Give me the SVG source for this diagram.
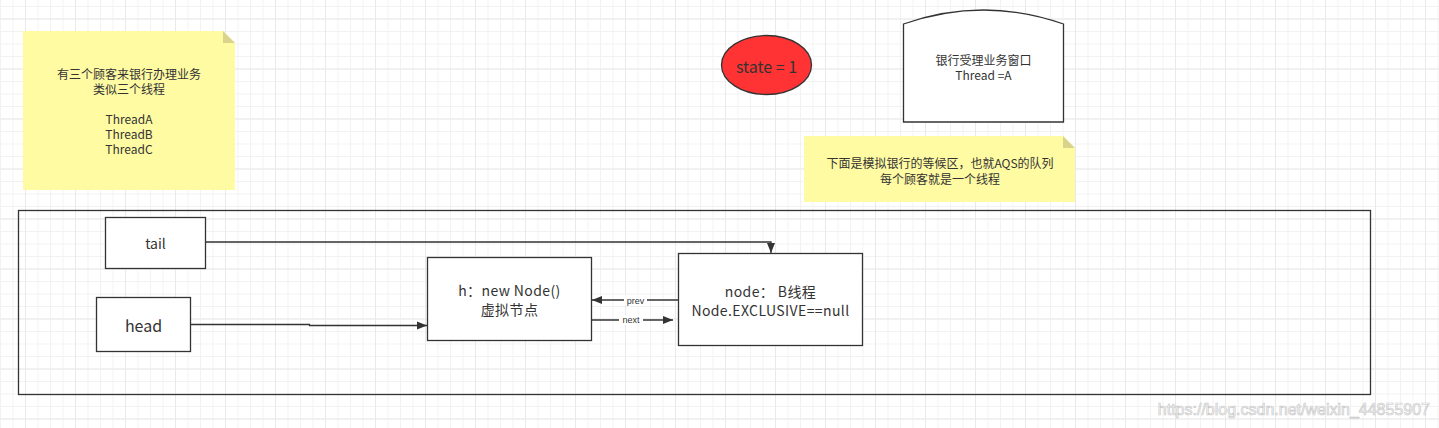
<svg xmlns="http://www.w3.org/2000/svg" width="1439" height="428" viewBox="0 0 1439 428">
<defs>
<pattern id="minor" x="0" y="6" width="12.5" height="12.5" patternUnits="userSpaceOnUse">
<path d="M0 0.5H12.5M0.5 0V12.5" stroke="#f2f2f2" stroke-width="1" fill="none"/>
</pattern>
<pattern id="major" x="25" y="18.5" width="50" height="50" patternUnits="userSpaceOnUse">
<path d="M0 0.5H50M0.5 0V50" stroke="#e9e9e9" stroke-width="1" fill="none"/>
</pattern>
<marker id="arr" viewBox="0 0 10 10" refX="10" refY="5" markerWidth="10" markerHeight="10" markerUnits="userSpaceOnUse" orient="auto">
<path d="M0,1 L10,5 L0,9 Z" fill="#333"/>
</marker>
<style>
.box{fill:#fff;stroke:#333;stroke-width:1.3}
.note{fill:#fffba3}
.fold{fill:#d9d38b}
.t{font-family:"Microsoft YaHei","Noto Sans CJK SC","Liberation Sans",sans-serif;fill:#333;text-anchor:middle;dominant-baseline:central}
.s{font-size:12px}
.m{font-size:14px;letter-spacing:0.4px}
.l{font-size:16px}
.line{fill:none;stroke:#333;stroke-width:1.3}
.lbl{font-family:"Liberation Sans","Noto Sans CJK SC",sans-serif;font-size:9px;fill:#333;text-anchor:middle;dominant-baseline:central}
</style>
</defs>
<rect width="1439" height="428" fill="#fff"/>
<rect width="1439" height="428" fill="url(#minor)"/>
<rect width="1439" height="428" fill="url(#major)"/>

<g id="note1">
<path class="note" d="M23,31 H223 L235,43 V190 H23 Z"/>
<path class="fold" d="M223,31 L235,43 H223 Z"/>
<text class="t s" x="129" y="73">有三个顾客来银行办理业务</text>
<text class="t s" x="129" y="88">类似三个线程</text>
<text class="t s" x="129" y="118">ThreadA</text>
<text class="t s" x="129" y="133">ThreadB</text>
<text class="t s" x="129" y="148">ThreadC</text>
</g>

<g id="state">
<ellipse cx="766.5" cy="65" rx="45" ry="29.5" fill="#ff3333" stroke="#333" stroke-width="1.3"/>
<text class="t l" x="766.5" y="66">state = 1</text>
</g>

<g id="window">
<path class="box" d="M903.5,24 Q983.5,-4 1063.5,24 V122 H903.5 Z"/>
<text class="t s" x="983.5" y="59">银行受理业务窗口</text>
<text class="t s" x="983.5" y="74">Thread =A</text>
</g>

<g id="note2">
<path class="note" d="M804,136 H1063 L1075,148 V202 H804 Z"/>
<path class="fold" d="M1063,136 L1075,148 H1063 Z"/>
<text class="t s" x="940" y="162">下面是模拟银行的等候区，也就AQS的队列</text>
<text class="t s" x="940" y="178">每个顾客就是一个线程</text>
</g>

<g id="container">
<rect x="18.5" y="210.5" width="1352" height="184" fill="none" stroke="#333" stroke-width="1.3"/>
</g>

<g id="tail">
<rect class="box" x="105.5" y="217.5" width="100" height="51"/>
<text class="t" x="155.5" y="243" font-size="14">tail</text>
</g>

<g id="head">
<rect class="box" x="96.5" y="297.5" width="94" height="54"/>
<text class="t l" x="143.5" y="325">head</text>
</g>

<g id="hnode">
<rect class="box" x="427.5" y="257.5" width="164" height="83"/>
<text class="t m" x="509.5" y="290">h：new Node()</text>
<text class="t m" x="509.5" y="309">虚拟节点</text>
</g>

<g id="bnode">
<rect class="box" x="678.5" y="253.5" width="184" height="92"/>
<text class="t m" x="770.5" y="290.5">node： B线程</text>
<text class="t m" x="770.5" y="309.5">Node.EXCLUSIVE==null</text>
</g>

<g id="connectors">
<path class="line" d="M205.5,242 H771 V253" marker-end="url(#arr)"/>
<path class="line" d="M190.5,324.5 H309.5 V325.5 H427" marker-end="url(#arr)"/>
<path class="line" d="M678,300 H592" marker-end="url(#arr)"/>
<rect x="624" y="295" width="23" height="10" fill="#fff"/>
<text class="lbl" x="635.5" y="300.5">prev</text>
<path class="line" d="M591.5,320 H673" marker-end="url(#arr)"/>
<rect x="619" y="315" width="24" height="10" fill="#fff"/>
<text class="lbl" x="631" y="320">next</text>
</g>

<text x="1430" y="409" font-family="Liberation Sans, sans-serif" font-size="16" text-anchor="end" dominant-baseline="central" fill="#fff" stroke="#c8c8c8" stroke-width="0.7">https://blog.csdn.net/weixin_44855907</text>
</svg>
